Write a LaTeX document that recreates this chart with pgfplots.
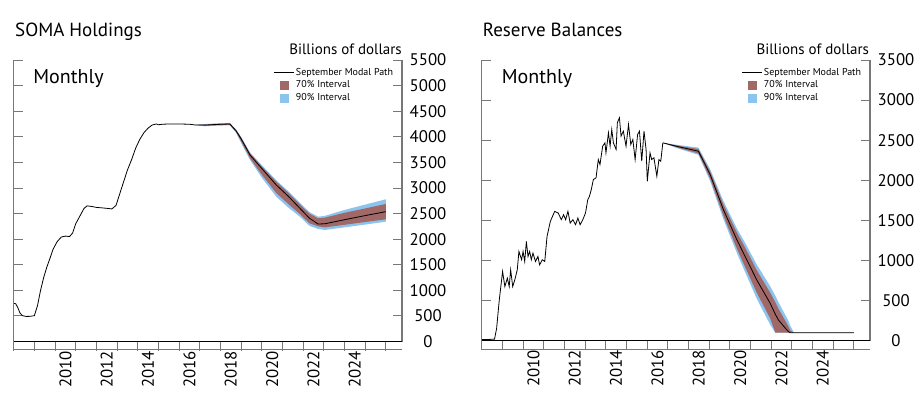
\documentclass[border=0pt]{standalone}
\usepackage{fontspec}
\setmainfont{PT Sans}
\usepackage{pgfplots}
\pgfplotsset{compat=1.18}
\usepackage{pgfplotstable}
\usepgfplotslibrary{fillbetween}
\definecolor{bandbrown}{RGB}{160,104,102}
\definecolor{bandblue}{RGB}{140,196,240}
\definecolor{axgray}{RGB}{120,120,120}

\pgfplotstableread{
x y
2008.00 746
2008.10 738
2008.20 660
2008.30 560
2008.42 505
2008.60 490
2008.80 492
2009.00 505
2009.15 700
2009.30 1000
2009.45 1250
2009.60 1450
2009.75 1620
2009.90 1800
2010.10 1950
2010.30 2040
2010.50 2060
2010.70 2050
2010.85 2120
2011.00 2300
2011.20 2450
2011.40 2600
2011.55 2650
2011.75 2640
2012.00 2620
2012.30 2610
2012.55 2600
2012.75 2590
2012.95 2660
2013.10 2850
2013.30 3100
2013.50 3350
2013.70 3550
2013.90 3780
2014.10 3950
2014.30 4080
2014.50 4170
2014.70 4230
2014.90 4250
2015.00 4235
2015.20 4245
2015.50 4250
2016.00 4250
2016.50 4245
2016.75 4232
}\somahist

\pgfplotstableread{
x m l70 h70 l90 h90
2016.75 4232 4232 4232 4232 4232
2017.25 4228 4215 4240 4205 4248
2017.75 4240 4225 4252 4215 4260
2018.45 4250 4235 4262 4225 4270
2018.75 4120 4095 4135 4080 4145
2019.00 3960 3910 3985 3880 3995
2019.43 3644 3580 3677 3546 3695
2020.00 3380 3260 3420 3200 3445
2020.70 3058 2900 3123 2830 3150
2021.30 2830 2680 2900 2610 2930
2021.84 2603 2490 2680 2439 2710
2022.30 2410 2310 2500 2260 2530
2022.72 2296 2250 2407 2200 2439
2023.05 2300 2230 2420 2179 2455
2024.00 2380 2280 2515 2230 2570
2025.00 2460 2335 2600 2285 2675
2026.00 2537 2388 2687 2341 2779
}\somafc

\pgfplotstableread{
x y
2008.00 15
2008.25 14
2008.50 18
2008.62 20
2008.72 150
2008.85 509
2009.01 863
2009.12 675
2009.24 780
2009.33 675
2009.40 884
2009.50 675
2009.60 759
2009.72 884
2009.80 1113
2009.93 1009
2010.00 1113
2010.08 988
2010.16 1238
2010.24 1050
2010.32 1113
2010.40 1009
2010.48 1092
2010.60 988
2010.72 1050
2010.80 946
2010.93 1009
2011.05 988
2011.16 1300
2011.32 1488
2011.53 1613
2011.70 1592
2011.85 1509
2011.96 1571
2012.06 1509
2012.17 1613
2012.28 1467
2012.41 1509
2012.54 1446
2012.65 1530
2012.76 1446
2012.89 1509
2013.02 1592
2013.13 1759
2013.21 1800
2013.30 1884
2013.40 2009
2013.53 2030
2013.64 2259
2013.72 2196
2013.85 2425
2013.96 2467
2014.01 2342
2014.13 2592
2014.21 2425
2014.29 2634
2014.37 2467
2014.50 2384
2014.56 2717
2014.66 2780
2014.74 2551
2014.85 2613
2014.98 2425
2015.10 2696
2015.21 2446
2015.31 2509
2015.42 2259
2015.54 2571
2015.63 2613
2015.74 2238
2015.85 2613
2015.95 2384
2016.01 1988
2016.14 2342
2016.22 2259
2016.33 2280
2016.47 2050
2016.57 2259
2016.66 2238
2016.76 2467
}\reshist

\pgfplotstableread{
x m l70 h70 l90 h90
2016.76 2467 2467 2467 2467 2467
2017.50 2420 2405 2432 2396 2440
2018.48 2363 2335 2390 2318 2408
2019.05 2071 2020 2110 1990 2138
2019.69 1634 1560 1700 1515 1742
2020.34 1259 1150 1350 1095 1400
2020.74 1050 920 1160 855 1220
2021.30 759 600 880 525 950
2021.95 467 280 600 200 680
2022.20 330 100 480 100 560
2022.35 259 100 400 100 480
2022.83 113 100 180 100 250
2022.92 100 100 130 100 190
2023.10 100 100 100 100 100
2026.00 100 100 100 100 100
}\resfc

\pgfplotsset{
  fedaxis/.style={
    scale only axis, width=388.3pt, height=281.5pt, anchor=south west,
    xmin=2008, xmax=2026.78,
    clip=false,
    axis line style={draw=none},
    xtick={2008,...,2026}, xticklabels={},
    xtick align=outside, ytick align=inside, xtick pos=left,
    major tick length=9pt,
    tick style={axgray, line width=0.9pt},
    yticklabel pos=right, ytick pos=both,
    yticklabel style={anchor=center, xshift=26pt},
    extra x ticks={2010.5,2012.5,2014.5,2016.5,2018.5,2020.5,2022.5,2024.5},
    extra x tick labels={2010,2012,2014,2016,2018,2020,2022,2024},
    extra x tick style={major tick length=0pt, tick label style={rotate=90, anchor=east, xshift=-6pt}},
    tick label style={font=\fontsize{16.8}{19}\selectfont},
    /pgf/number format/assume math mode=true,
    /pgf/number format/1000 sep={},
    scaled y ticks=false,
    legend style={at={(axis description cs:0.668,0.977)}, anchor=north west,
      draw=none, fill=none, inner sep=0pt,
      font=\fontsize{10}{12}\selectfont, row sep=1pt,
      nodes={inner sep=1.5pt}},
    legend cell align=left,
  },
  lineimg/.style={legend image code/.code={\draw[black,line width=1.2pt] (0pt,0pt) -- (20pt,0pt);}},
  sqimg/.style={legend image code/.code={\fill[#1] (6pt,-4pt) rectangle (14pt,4pt);}},
}

\begin{document}
\begin{tikzpicture}

% ---------------- SOMA Holdings ----------------
\begin{axis}[fedaxis, at={(13.7pt,55.5pt)},
  ymin=0, ymax=5500, ytick={0,500,...,5500}]
\addlegendimage{lineimg}
\addlegendimage{sqimg=bandbrown}
\addlegendimage{sqimg=bandblue}
\legend{September Modal Path, 70\% Interval, 90\% Interval}

\addplot[name path=sl90, draw=none, forget plot] table[x=x, y=l90] {\somafc};
\addplot[name path=sh90, draw=none, forget plot] table[x=x, y=h90] {\somafc};
\addplot[name path=sl70, draw=none, forget plot] table[x=x, y=l70] {\somafc};
\addplot[name path=sh70, draw=none, forget plot] table[x=x, y=h70] {\somafc};
\addplot[bandblue, forget plot] fill between[of=sl90 and sh90];
\addplot[bandbrown, forget plot] fill between[of=sl70 and sh70];
\addplot[black, line width=0.8pt, forget plot] table[x=x, y=m] {\somafc};
\addplot[black, line width=0.8pt, forget plot] table[x=x, y=y] {\somahist};

\draw[axgray, line width=1.3pt] (rel axis cs:0,1) -- (rel axis cs:0,0) -- ++(0pt,-8.3pt);
\draw[axgray, line width=1.3pt] (rel axis cs:1,1) -- (rel axis cs:1,0);
\draw[axgray, line width=1pt] (rel axis cs:0,0) ++(0pt,-8.3pt) -- ++(388.3pt,0pt);
\draw[black, line width=0.9pt] (rel axis cs:0,0) -- (rel axis cs:1,0);

\node[inner sep=0pt, anchor=base west, font=\fontsize{20}{24}\selectfont] at (axis description cs:0.05,0.917) {Monthly};
\node[inner sep=0pt, anchor=base west, font=\fontsize{19}{22}\selectfont] at (axis description cs:0.0033,1.083) {SOMA Holdings};
\node[inner sep=0pt, anchor=base east, font=\fontsize{15}{18}\selectfont] at (axis description cs:1,1.018) {Billions of dollars};
\end{axis}

% ---------------- Reserve Balances ----------------
\begin{axis}[fedaxis, at={(481.7pt,56.3pt)}, height=280.7pt,
  ymin=0, ymax=3500, ytick={0,500,...,3500}]
\addlegendimage{lineimg}
\addlegendimage{sqimg=bandbrown}
\addlegendimage{sqimg=bandblue}
\legend{September Modal Path, 70\% Interval, 90\% Interval}

\addplot[name path=rl90, draw=none, forget plot] table[x=x, y=l90] {\resfc};
\addplot[name path=rh90, draw=none, forget plot] table[x=x, y=h90] {\resfc};
\addplot[name path=rl70, draw=none, forget plot] table[x=x, y=l70] {\resfc};
\addplot[name path=rh70, draw=none, forget plot] table[x=x, y=h70] {\resfc};
\addplot[bandblue, forget plot] fill between[of=rl90 and rh90];
\addplot[bandbrown, forget plot] fill between[of=rl70 and rh70];
\addplot[black, line width=0.8pt, forget plot] table[x=x, y=m] {\resfc};
\addplot[black, line width=0.8pt, forget plot] table[x=x, y=y] {\reshist};

\draw[axgray, line width=1.3pt] (rel axis cs:0,1) -- (rel axis cs:0,0) -- ++(0pt,-8.3pt);
\draw[axgray, line width=1.3pt] (rel axis cs:1,1) -- (rel axis cs:1,0);
\draw[axgray, line width=1pt] (rel axis cs:0,0) ++(0pt,-8.3pt) -- ++(388.3pt,0pt);
\draw[black, line width=0.9pt] (rel axis cs:0,0) -- (rel axis cs:1,0);

\node[inner sep=0pt, anchor=base west, font=\fontsize{20}{24}\selectfont] at (axis description cs:0.0515,0.917) {Monthly};
\node[inner sep=0pt, anchor=base west, font=\fontsize{19}{22}\selectfont] at (axis description cs:0.0026,1.083) {Reserve Balances};
\node[inner sep=0pt, anchor=base east, font=\fontsize{15}{18}\selectfont] at (axis description cs:0.998,1.018) {Billions of dollars};
\end{axis}
\pgfresetboundingbox
\path[use as bounding box] (0,0) rectangle (916pt,397pt);
\end{tikzpicture}
\end{document}
